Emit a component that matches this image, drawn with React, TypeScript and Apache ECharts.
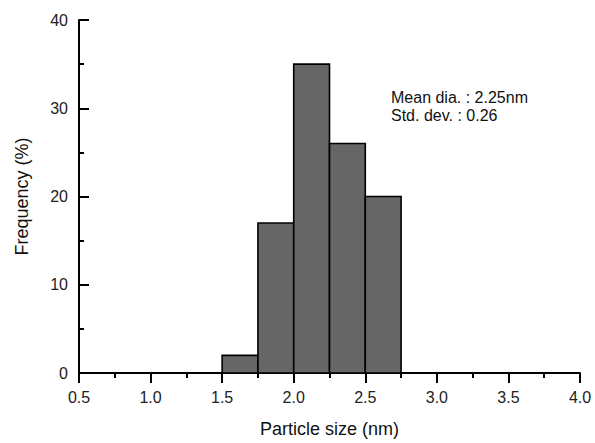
import React, { useEffect, useRef } from "react";
import * as echarts from "echarts";

const binStarts = [1.5, 1.75, 2.0, 2.25, 2.5];
const binEnds = [1.75, 2.0, 2.25, 2.5, 2.75];
const frequencies = [2, 17, 35, 26, 20];
const annotationLines = ["Mean dia. : 2.25nm", "Std. dev. : 0.26"];

export default function App() {
  const ref = useRef<HTMLDivElement>(null);
  useEffect(() => {
    if (!ref.current) return;
    const chart = echarts.init(ref.current, null, { renderer: "svg" });
    const font = "Liberation Sans, Arial, sans-serif";
    const data = binStarts.map((s, i) => [s, binEnds[i], frequencies[i]]);
    chart.setOption({
      animation: false,
      backgroundColor: "#fff",
      grid: { left: 79, right: 15, top: 20, bottom: 65 },
      xAxis: {
        type: "value",
        min: 0.5,
        max: 4.0,
        interval: 0.5,
        name: "Particle size (nm)",
        nameLocation: "middle",
        nameGap: 47,
        nameTextStyle: { fontFamily: font, fontSize: 18, color: "#111" },
        axisLine: { show: true, onZero: false, lineStyle: { color: "#000", width: 2 } },
        axisTick: { show: true, inside: false, length: 10, lineStyle: { color: "#000", width: 2 } },
        minorTick: { show: true, splitNumber: 2, length: 5, lineStyle: { color: "#000", width: 2 } },
        axisLabel: {
          fontFamily: font,
          fontSize: 16,
          color: "#222",
          margin: 16,
          formatter: (v: number) => v.toFixed(1),
        },
        splitLine: { show: false },
      },
      yAxis: {
        type: "value",
        min: 0,
        max: 40,
        interval: 10,
        name: "Frequency (%)",
        nameLocation: "middle",
        nameGap: 48,
        nameTextStyle: { fontFamily: font, fontSize: 18, color: "#111" },
        axisLine: { show: true, lineStyle: { color: "#000", width: 2 } },
        axisTick: { show: true, inside: true, length: 10, lineStyle: { color: "#000", width: 2 } },
        minorTick: { show: true, splitNumber: 2, length: 5, lineStyle: { color: "#000", width: 2 } },
        axisLabel: { fontFamily: font, fontSize: 16, color: "#222", margin: 11 },
        splitLine: { show: false },
      },
      graphic: [
        {
          type: "text",
          left: 391,
          top: 88,
          style: {
            text: annotationLines.join("\n"),
            fontFamily: font,
            fontSize: 16,
            lineHeight: 18,
            fill: "#111",
          },
        },
      ],
      series: [
        {
          type: "custom",
          data,
          encode: { x: [0, 1], y: 2 },
          renderItem: (params: any, api: any) => {
            const p0 = api.coord([api.value(0), api.value(2)]);
            const p1 = api.coord([api.value(1), 0]);
            return {
              type: "rect",
              shape: { x: p0[0], y: p0[1], width: p1[0] - p0[0], height: p1[1] - p0[1] },
              style: { fill: "#666666", stroke: "#000", lineWidth: 1.6 },
            };
          },
        },
      ],
    });
    return () => chart.dispose();
  }, []);
  return (
    <div
      ref={ref}
      style={{ position: "fixed", left: 0, top: 0, width: 595, height: 443 }}
    />
  );
}
